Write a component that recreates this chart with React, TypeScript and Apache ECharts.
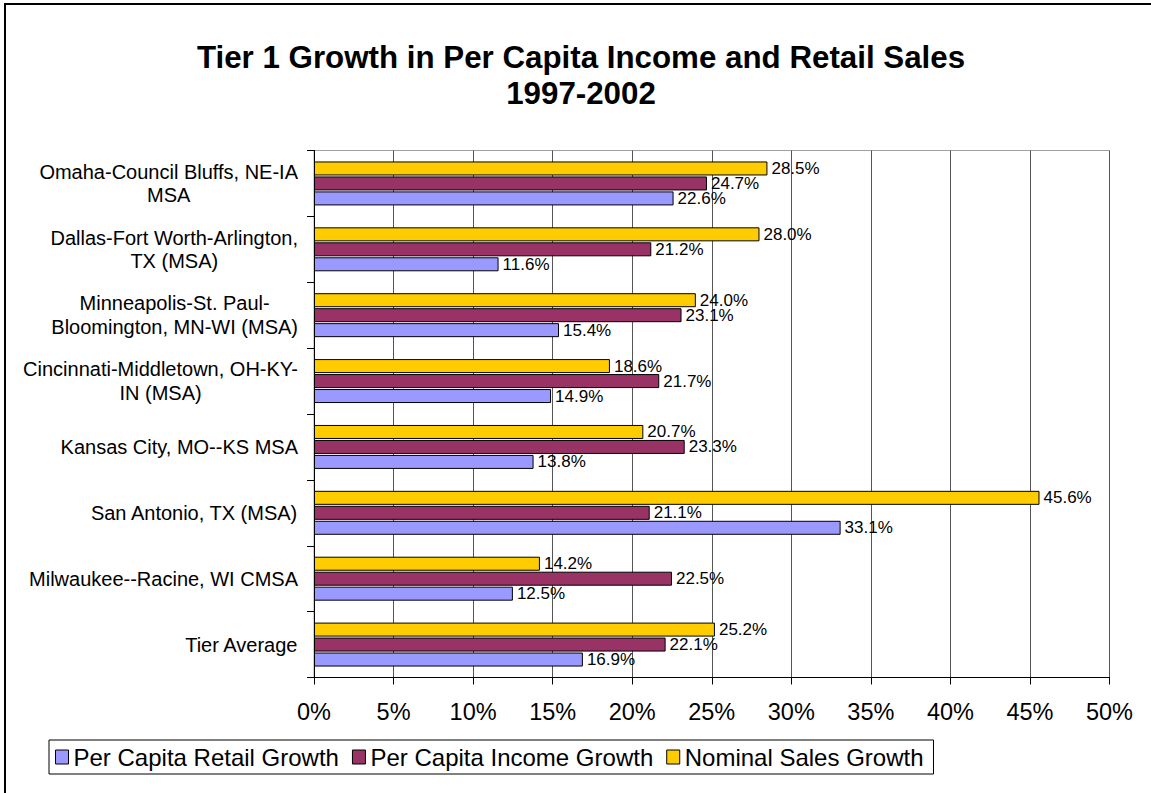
import React, { useEffect, useRef } from "react";
import * as echarts from "echarts";

const categories = [
  "Omaha-Council Bluffs, NE-IA\nMSA",
  "Dallas-Fort Worth-Arlington,\nTX (MSA)",
  "Minneapolis-St. Paul-\nBloomington, MN-WI (MSA)",
  "Cincinnati-Middletown, OH-KY-\nIN (MSA)",
  "Kansas City, MO--KS MSA",
  "San Antonio, TX (MSA)",
  "Milwaukee--Racine, WI CMSA",
  "Tier Average",
];
const retailGrowth = [22.6, 11.6, 15.4, 14.9, 13.8, 33.1, 12.5, 16.9];
const incomeGrowth = [24.7, 21.2, 23.1, 21.7, 23.3, 21.1, 22.5, 22.1];
const nominalGrowth = [28.5, 28.0, 24.0, 18.6, 20.7, 45.6, 14.2, 25.2];
const seriesNames = ["Per Capita Retail Growth", "Per Capita Income Growth", "Nominal Sales Growth"];
const titleLines = ["Tier 1 Growth in Per Capita Income and Retail Sales", "1997-2002"];

const FONT = "'Liberation Sans', Arial, Helvetica, sans-serif";

export default function App() {
  const ref = useRef<HTMLDivElement>(null);
  useEffect(() => {
    if (!ref.current) return;
    const chart = echarts.init(ref.current, undefined, { renderer: "svg" });
    const mkSeries = (name: string, data: number[], color: string) => ({
      name,
      type: "bar",
      data,
      barWidth: 14,
      barGap: "7%",
      itemStyle: { color, borderColor: "#000", borderWidth: 1 },
      label: {
        show: true,
        position: "right",
        distance: 4,
        fontSize: 17,
        fontFamily: FONT,
        color: "#000",
        formatter: (p: any) => p.value.toFixed(1) + "%",
      },
    });
    chart.setOption({
      animation: false,
      backgroundColor: "#fff",
      textStyle: { fontFamily: FONT },
      graphic: [
        {
          type: "rect",
          shape: { x: 5, y: 4, width: 1400, height: 1000 },
          style: { fill: "none", stroke: "#000", lineWidth: 2 },
          silent: true,
        },
        {
          type: "text",
          x: 581,
          y: 39,
          style: {
            text: titleLines.join("\n"),
            align: "center",
            verticalAlign: "top",
            fontSize: 31.3,
            fontWeight: "bold",
            fontFamily: FONT,
            lineHeight: 36,
            fill: "#000",
          },
        },
      ],
      legend: {
        data: seriesNames,
        left: 49,
        top: 740,
        orient: "horizontal",
        icon: "rect",
        itemWidth: 13,
        itemHeight: 14,
        itemGap: 13,
        padding: [5, 10, 5, 6],
        borderColor: "#000",
        borderWidth: 1,
        backgroundColor: "#fff",
        itemStyle: { borderColor: "#000", borderWidth: 1 },
        textStyle: { fontSize: 24, fontFamily: FONT, color: "#000", lineHeight: 24 },
      },
      grid: {
        left: 314,
        top: 150.5,
        width: 795.5,
        height: 527,
        show: true,
        borderColor: "#a0a0a0",
        borderWidth: 1,
        backgroundColor: "transparent",
      },
      xAxis: {
        type: "value",
        min: 0,
        max: 50,
        interval: 5,
        axisLine: { show: true, lineStyle: { color: "#000", width: 1 } },
        axisTick: { show: true, length: 7, lineStyle: { color: "#000" } },
        splitLine: { show: true, lineStyle: { color: "#555", width: 1 } },
        axisLabel: {
          formatter: "{value}%",
          fontSize: 23.5,
          fontFamily: FONT,
          color: "#000",
          margin: 22.5,
        },
      },
      yAxis: {
        type: "category",
        inverse: true,
        data: categories,
        axisLine: { show: true, lineStyle: { color: "#000", width: 1 } },
        axisTick: { show: true, length: 7, alignWithLabel: false, lineStyle: { color: "#000" } },
        axisLabel: {
          margin: 16,
          interval: 0,
          formatter: (v: string) => v.split("\n").map((s) => `{c|${s}}`).join("\n"),
          rich: {
            c: { align: "center", fontSize: 20, lineHeight: 23.5, fontFamily: FONT, color: "#000" },
          },
        },
      },
      series: [
        mkSeries(seriesNames[2], nominalGrowth, "#FFCC00"),
        mkSeries(seriesNames[1], incomeGrowth, "#993366"),
        mkSeries(seriesNames[0], retailGrowth, "#9999FF"),
      ],
    });
    return () => chart.dispose();
  }, []);
  return (
    <div
      ref={ref}
      style={{ position: "fixed", left: 0, top: 0, width: 1151, height: 793, background: "#fff" }}
    />
  );
}
